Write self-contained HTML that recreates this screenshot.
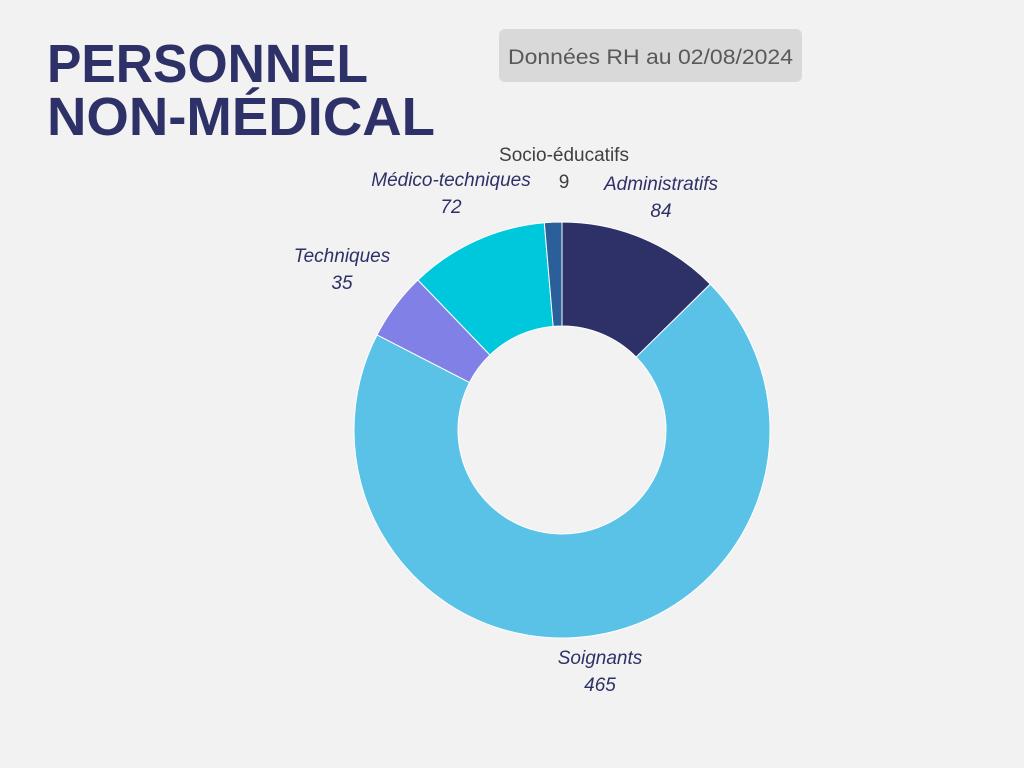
<!DOCTYPE html>
<html><head><meta charset="utf-8"><style>
html,body{margin:0;padding:0;background:#f2f2f2;}
svg{display:block;font-family:"Liberation Sans Narrow","Liberation Sans",sans-serif;}
</style></head><body>
<svg width="1024" height="768" viewBox="0 0 1024 768">
<rect width="1024" height="768" fill="#f2f2f2"/>
<text x="47" y="82" font-size="54" font-weight="bold" fill="#2e3168" textLength="321" lengthAdjust="spacingAndGlyphs">PERSONNEL</text>
<text x="47" y="135" font-size="54" font-weight="bold" fill="#2e3168" textLength="388" lengthAdjust="spacingAndGlyphs">NON-MÉDICAL</text>
<rect x="499" y="29" width="303" height="53" rx="6" fill="#d9d9d9"/>
<text x="508" y="64" font-size="21" fill="#595959" textLength="285" lengthAdjust="spacingAndGlyphs">Données RH au 02/08/2024</text>
<g id="slices"></g>
<g id="labels"></g>
</svg>
<script>
const categories = ["Administratifs","Soignants","Techniques","Médico-techniques","Socio-éducatifs"];
const values = [84,465,35,72,9];
const colors = ["#2e3168","#5bc2e7","#8080e6","#00c8dc","#2a5f99"];
const labelPos = [[661,190],[600,664],[342,262],[451,186],[564,161]];
const cx=562, cy=430, R=208, r=104;
const total = values.reduce((a,b)=>a+b,0);
const ns="http://www.w3.org/2000/svg";
const g=document.getElementById('slices'), lg=document.getElementById('labels');
function pt(a,rad){return [cx+rad*Math.sin(a), cy-rad*Math.cos(a)];}
let acc=0;
values.forEach((v,i)=>{
  const a0=acc/total*2*Math.PI; acc+=v; const a1=acc/total*2*Math.PI;
  const large=(a1-a0)>Math.PI?1:0;
  const [x0,y0]=pt(a0,R),[x1,y1]=pt(a1,R),[x2,y2]=pt(a1,r),[x3,y3]=pt(a0,r);
  const p=document.createElementNS(ns,'path');
  p.setAttribute('d',`M${x0},${y0}A${R},${R} 0 ${large} 1 ${x1},${y1}L${x2},${y2}A${r},${r} 0 ${large} 0 ${x3},${y3}Z`);
  p.setAttribute('fill',colors[i]);
  p.setAttribute('stroke','#ffffff');p.setAttribute('stroke-width','1');
  
  
  g.appendChild(p);
  const [lx,ly]=labelPos[i];
  const socio=i===4;
  const t1=document.createElementNS(ns,'text');
  t1.setAttribute('x',lx);t1.setAttribute('y',ly);t1.setAttribute('text-anchor','middle');
  t1.setAttribute('font-size','19');t1.setAttribute('fill',socio?'#404040':'#2e3168');
  if(!socio)t1.setAttribute('font-style','italic');
  t1.textContent=categories[i];
  
  
  lg.appendChild(t1);
  const t2=document.createElementNS(ns,'text');
  t2.setAttribute('x',lx);t2.setAttribute('y',ly+27);t2.setAttribute('text-anchor','middle');
  t2.setAttribute('font-size','19');t2.setAttribute('fill',socio?'#404040':'#2e3168');
  if(!socio)t2.setAttribute('font-style','italic');
  t2.textContent=values[i];
  
  
  lg.appendChild(t2);
});
</script>
</body></html>
